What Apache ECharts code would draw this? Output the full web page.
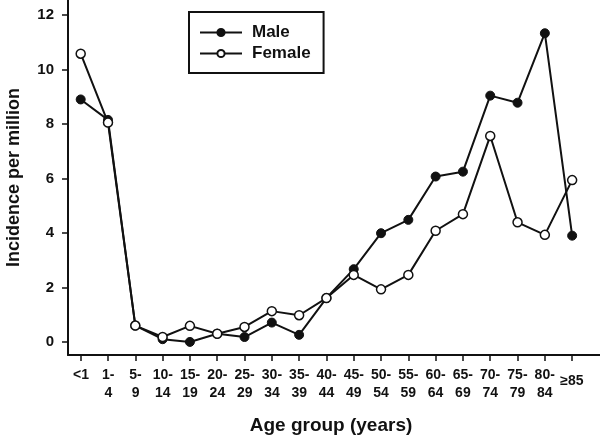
<!DOCTYPE html>
<html>
<head>
<meta charset="utf-8">
<script src="https://cdn.jsdelivr.net/npm/echarts@6/dist/echarts.min.js"></script>
<style>
  html, body { margin: 0; padding: 0; background: #fff; }
  #chart { width: 600px; height: 436px; }
</style>
</head>
<body>
<div id="chart"></div>
<script>
  var ageGroups = ['<1', '1-\n4', '5-\n9', '10-\n14', '15-\n19', '20-\n24', '25-\n29', '30-\n34', '35-\n39', '40-\n44',
    '45-\n49', '50-\n54', '55-\n59', '60-\n64', '65-\n69', '70-\n74', '75-\n79', '80-\n84', '≥85']
  var maleValues = [8.9, 8.15, 0.6, 0.1, 0, 0.3, 0.18, 0.71, 0.26, 1.61, 2.67, 3.99, 4.48, 6.07, 6.25, 9.04, 8.78, 11.33, 3.9]
  var femaleValues = [10.58, 8.05, 0.6, 0.18, 0.59, 0.3, 0.55, 1.13, 0.98, 1.61, 2.46, 1.93, 2.46, 4.08, 4.69, 7.56, 4.39, 3.93, 5.94]
  var yTicks = [0, 2, 4, 6, 8, 10, 12]

  var ink = '#111'
  var font = 'Liberation Sans'

  // x axis line runs past the last group, so plot on index values
  function toPoints(values) {
    return values.map(function(v, i) {
      return [i, v]
    })
  }
  var groupIndex = ageGroups.map(function(g, i) {
    return i
  })

  var chart = echarts.init(document.getElementById('chart'))
  chart.setOption({
    animation: false,
    legend: {
      orient: 'vertical',
      left: 189,
      top: 12,
      padding: [12, 13, 11, 10],
      itemWidth: 42,
      itemHeight: 9,
      itemGap: 4,
      borderColor: ink,
      borderWidth: 2,
      textStyle: {
        fontFamily: font,
        fontWeight: 'bold',
        fontSize: 17,
        color: ink,
        padding: [0, 0, 0, 5]
      },
      data: ['Male', 'Female']
    },
    grid: [
      { left: 68, right: 0, top: 0, bottom: 81, outerBoundsMode: 'none', containLabel: false },
      { left: 81, right: 28, top: 0, bottom: 81, outerBoundsMode: 'none', containLabel: false }
    ],
    xAxis: [{
      type: 'value',
      gridIndex: 0,
      min: -0.465,
      max: 19.02,
      axisLine: { show: true, onZero: false, lineStyle: { color: ink, width: 2 } },
      axisTick: { show: true, length: 6, customValues: groupIndex, lineStyle: { color: ink, width: 1.5 } },
      axisLabel: { show: false },
      splitLine: { show: false },
      name: 'Age group (years)',
      nameLocation: 'middle',
      nameGap: 61,
      nameTextStyle: {
        fontFamily: font,
        fontWeight: 'bold',
        fontSize: 19,
        color: ink,
        padding: [0, 6, 0, 0]
      }
    }, {
      type: 'category',
      gridIndex: 1,
      data: ageGroups,
      boundaryGap: false,
      axisLine: { show: false, onZero: false },
      axisTick: { show: false },
      axisLabel: {
        interval: 0,
        margin: 11,
        fontFamily: font,
        fontWeight: 'bold',
        fontSize: 14,
        lineHeight: 18,
        color: ink,
        formatter: function(v) {
          if (v === '≥85') return '{mid|' + v + '}'
          return v
        },
        rich: {
          mid: {
            fontFamily: font,
            fontWeight: 'bold',
            fontSize: 14,
            color: ink,
            padding: [12, 0, 0, 0]
          }
        }
      }
    }],
    yAxis: [{
      type: 'value',
      gridIndex: 0,
      min: -0.48,
      max: 12.55,
      axisLine: { show: true, onZero: false, lineStyle: { color: ink, width: 2 } },
      axisTick: { show: true, length: 6, customValues: yTicks, lineStyle: { color: ink, width: 1.5 } },
      axisLabel: {
        customValues: yTicks,
        margin: 14,
        fontFamily: font,
        fontWeight: 'bold',
        fontSize: 15,
        color: ink
      },
      splitLine: { show: false },
      name: 'Incidence per million',
      nameLocation: 'middle',
      nameGap: 45,
      nameTextStyle: {
        fontFamily: font,
        fontWeight: 'bold',
        fontSize: 18,
        color: ink
      }
    }, {
      type: 'value',
      gridIndex: 1,
      show: false
    }],
    series: [{
      name: 'Male',
      type: 'line',
      xAxisIndex: 0,
      yAxisIndex: 0,
      data: toPoints(maleValues),
      symbol: 'circle',
      symbolSize: 9,
      lineStyle: { color: ink, width: 2 },
      itemStyle: { color: ink, borderColor: ink, borderWidth: 1 }
    }, {
      name: 'Female',
      type: 'line',
      xAxisIndex: 0,
      yAxisIndex: 0,
      data: toPoints(femaleValues),
      symbol: 'circle',
      symbolSize: 9,
      lineStyle: { color: ink, width: 2 },
      itemStyle: { color: '#fff', borderColor: ink, borderWidth: 1.5 }
    }]
  })
</script>
</body>
</html>
